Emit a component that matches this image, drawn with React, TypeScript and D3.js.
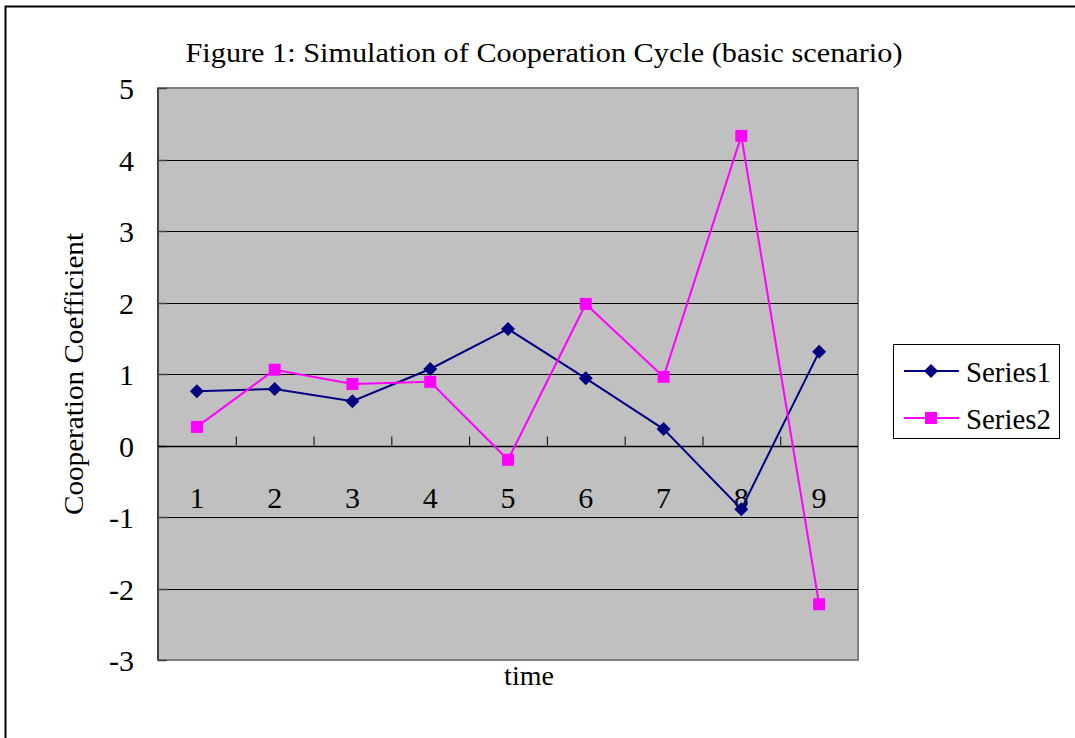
import * as React from 'react';
import * as d3 from 'd3';

// chart data
const categories = ['1', '2', '3', '4', '5', '6', '7', '8', '9'];
const series1 = [0.76, 0.79, 0.62, 1.07, 1.63, 0.94, 0.23, -0.89, 1.31];
const series2 = [0.26, 1.06, 0.86, 0.89, -0.2, 1.98, 0.96, 4.33, -2.22];
const yTicks = [-3, -2, -1, 0, 1, 2, 3, 4, 5];
const seriesNames = ['Series1', 'Series2'];
const seriesColors = ['#000080', '#FF00FF'];

const FONT = '"Liberation Serif", "DejaVu Serif", serif';
const DIAMOND = 'M0,-7L7,0L0,7L-7,0Z';

const App: React.FC = () => {
  const width = 1075;
  const height = 738;
  const plot = { left: 158, right: 858, top: 88, bottom: 660 };

  const x = d3.scaleBand().domain(categories).range([plot.left, plot.right]);
  const y = d3.scaleLinear().domain([-3, 5]).range([plot.bottom, plot.top]);
  const cx = (c: string) => (x(c) ?? 0) + x.bandwidth() / 2;

  const line = d3.line<number>()
    .x((_, i) => cx(categories[i]))
    .y(d => y(d));

  const all = [series1, series2];
  const y0 = y(0);

  return (
    <svg width={width} height={height} style={{ position: 'absolute', left: 0, top: 0 }} fontFamily={FONT}>
      <rect x={0} y={0} width={width} height={height} fill="#fff" />
      {/* outer frame (only top and left visible) */}
      <path d={`M5.5,${height} V6.5 H${width}`} fill="none" stroke="#000" strokeWidth={2} />

      <text x={544} y={62} textAnchor="middle" fontSize={28} textLength={717} lengthAdjust="spacingAndGlyphs">
        Figure 1: Simulation of Cooperation Cycle (basic scenario)
      </text>

      {/* plot area */}
      <rect x={plot.left} y={plot.top} width={plot.right - plot.left} height={plot.bottom - plot.top}
        fill="#C0C0C0" stroke="#808080" strokeWidth={2} />

      {/* gridlines */}
      {yTicks.filter(t => t !== -3 && t !== 5).map(t => (
        <line key={'g' + t} x1={plot.left} x2={plot.right} y1={Math.round(y(t)) + 0.5} y2={Math.round(y(t)) + 0.5}
          stroke="#000" strokeWidth={1} />
      ))}

      {/* y axis */}
      <line x1={plot.left} x2={plot.left} y1={plot.top} y2={plot.bottom} stroke="#404040" strokeWidth={2} />
      {yTicks.map(t => (
        <g key={'y' + t}>
          <line x1={plot.left} x2={plot.left + 9} y1={Math.round(y(t)) + 0.5} y2={Math.round(y(t)) + 0.5}
            stroke="#404040" strokeWidth={1.5} />
          <text x={134} y={y(t) + 11} textAnchor="end" fontSize={30}>{t}</text>
        </g>
      ))}

      {/* x axis at zero with category ticks pointing up */}
      <line x1={plot.left} x2={plot.right} y1={Math.round(y0) + 0.5} y2={Math.round(y0) + 0.5} stroke="#000" strokeWidth={1.5} />
      {categories.slice(1).map(c => (
        <line key={'xt' + c} x1={(x(c) ?? 0) + 0.5} x2={(x(c) ?? 0) + 0.5} y1={y0 - 9} y2={y0}
          stroke="#000" strokeWidth={1} />
      ))}
      {categories.map(c => (
        <text key={'xl' + c} x={cx(c)} y={y0 + 62} textAnchor="middle" fontSize={30}>{c}</text>
      ))}

      {/* axis titles */}
      <text transform={`translate(83,374) rotate(-90)`} textAnchor="middle" fontSize={28} textLength={282}
        lengthAdjust="spacingAndGlyphs">Cooperation Coefficient</text>
      <text x={529} y={685} textAnchor="middle" fontSize={28}>time</text>

      {/* series */}
      {all.map((s, si) => (
        <g key={'s' + si}>
          <path d={line(s) ?? ''} fill="none" stroke={seriesColors[si]} strokeWidth={2} />
          {s.map((v, i) => si === 0 ? (
            <path key={i} d={DIAMOND}
              transform={`translate(${cx(categories[i])},${y(v)})`} fill={seriesColors[si]} />
          ) : (
            <rect key={i} x={cx(categories[i]) - 6} y={y(v) - 6} width={12} height={12} fill={seriesColors[si]} />
          ))}
        </g>
      ))}

      {/* legend */}
      <rect x={893.5} y={344.5} width={166} height={94} fill="#fff" stroke="#000" strokeWidth={1} />
      {seriesNames.map((n, i) => {
        const ly = 371 + i * 47;
        return (
          <g key={'l' + i}>
            <line x1={904} x2={959} y1={ly} y2={ly} stroke={seriesColors[i]} strokeWidth={2} />
            {i === 0 ? (
              <path d={DIAMOND} transform={`translate(931,${ly})`} fill={seriesColors[i]} />
            ) : (
              <rect x={925} y={ly - 6} width={12} height={12} fill={seriesColors[i]} />
            )}
            <text x={966} y={ly + 11} fontSize={30} textLength={85} lengthAdjust="spacingAndGlyphs">{n}</text>
          </g>
        );
      })}
    </svg>
  );
};

export default App;
